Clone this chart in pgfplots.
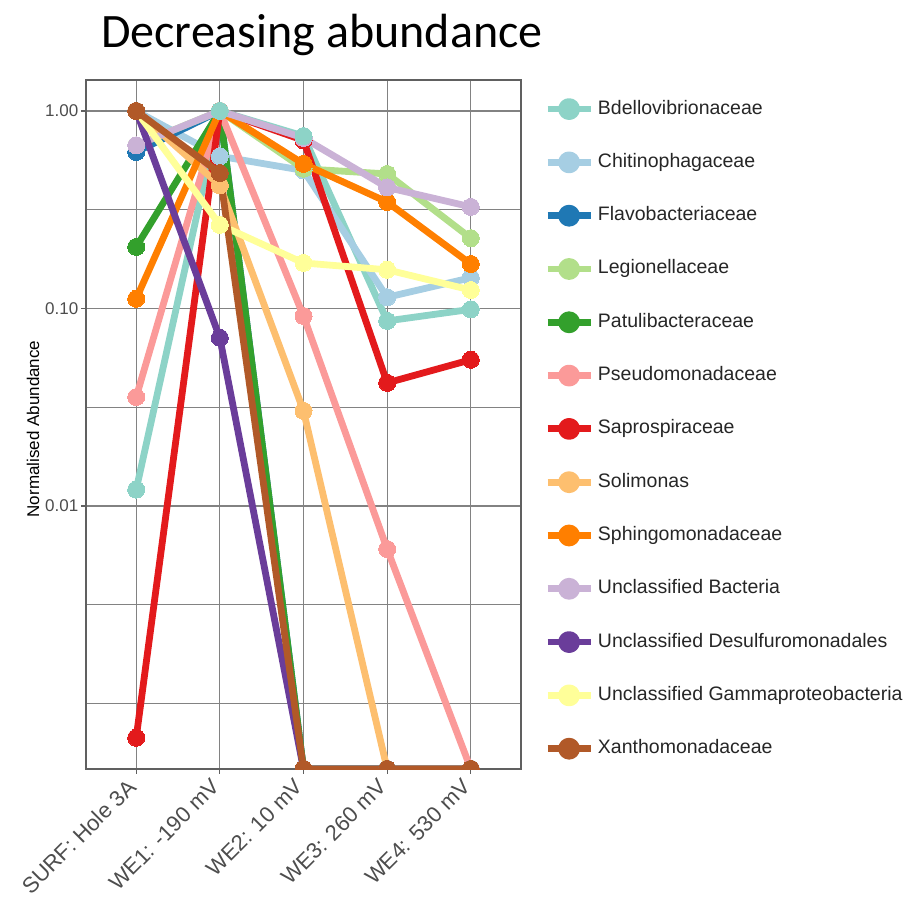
\documentclass[border=0pt]{standalone}
\usepackage{pgfplots}
\pgfplotsset{compat=1.18}
\usepackage{pgfplotstable}
\usepackage{fontspec}
\setmainfont{Liberation Sans}
\newfontfamily\titlefont{Carlito}

\definecolor{cBdello}{HTML}{8DD3C7}
\definecolor{cChitino}{HTML}{A6CEE3}
\definecolor{cFlavo}{HTML}{1F78B4}
\definecolor{cLegion}{HTML}{B2DF8A}
\definecolor{cPatuli}{HTML}{33A02C}
\definecolor{cPseudo}{HTML}{FB9A99}
\definecolor{cSapro}{HTML}{E31A1C}
\definecolor{cSolim}{HTML}{FDBF6F}
\definecolor{cSphingo}{HTML}{FF7F00}
\definecolor{cUncBact}{HTML}{CAB2D6}
\definecolor{cDesulf}{HTML}{6A3D9A}
\definecolor{cGamma}{HTML}{FFFF99}
\definecolor{cXantho}{HTML}{B15928}
\definecolor{gridgray}{HTML}{828282}
\definecolor{framegray}{HTML}{606060}
\definecolor{ticktext}{HTML}{4D4D4D}

\pgfplotsset{
  pts/.style={only marks, mark=*, mark size=8.5bp, mark options={line width=0pt}, forget plot},
}

% Normalised abundance per sample; 0.000466 marks taxa that were not detected
% (drawn on the lower edge of the panel)
\pgfplotstableread{
x  bdello  chitino flavo    legion  patuli   pseudo   sapro    solim    sphingo uncbact desulf   gamma  xantho
0  0.0121  1.0     0.62     0.67    0.205    0.0356   0.00067  1.0      0.112   0.67    1.0      1.0    1.0
1  1.0     0.59    1.0      1.0     1.0      1.0      1.0      0.42     1.0     1.0     0.071    0.265  0.485
2  0.747   0.50    0.000466 0.51    0.000466 0.0916   0.71     0.0303   0.54    0.73    0.000466 0.17   0.000466
3  0.0865  0.114   0.000466 0.48    0.000466 0.00605  0.042    0.000466 0.346   0.41    0.000466 0.157  0.000466
4  0.099   0.143   0.000466 0.227   0.000466 0.000466 0.055    0.000466 0.168   0.327   0.000466 0.124  0.000466
}\abund

\begin{document}
\begin{tikzpicture}[x=1bp,y=1bp]
\path[use as bounding box] (0,0) rectangle (907,901);
\begin{axis}[
  at={(86bp,132bp)}, anchor=south west,
  scale only axis, width=435bp, height=689bp,
  xmin=-0.6, xmax=4.6,
  ymode=log, ymin=0.0004656, ymax=1.4355,
  xtick={0,1,2,3,4},
  xticklabels={SURF: Hole 3A, WE1: -190 mV, WE2: 10 mV, WE3: 260 mV, WE4: 530 mV},
  ytick={1,0.1,0.01},
  yticklabels={1.00,0.10,0.01},
  minor ytick={0.316228,0.0316228,0.00316228,0.001},
  xmajorgrids, ymajorgrids, yminorgrids,
  grid style={gridgray, line width=1.1bp},
  minor grid style={gridgray, line width=1.1bp},
  axis line style={framegray, line width=1.3bp},
  tick align=outside, major tick length=5bp, minor tick length=0pt,
  tick style={framegray, line width=1.2bp},
  xtick pos=bottom, ytick pos=left,
  /pgf/number format/assume math mode=true,
  yticklabel style={font=\fontsize{17bp}{19bp}\selectfont, text=ticktext, inner sep=2.5bp},
  xticklabel style={font=\fontsize{22bp}{24bp}\selectfont, text=ticktext, xshift=-10bp, yshift=-2bp, rotate=45, anchor=north east, inner sep=1bp},
  ylabel={Normalised Abundance},
  ylabel style={font=\fontsize{17bp}{19bp}\selectfont, at={(axis description cs:-0.1218,0.4935)}, anchor=center},
  title={Decreasing abundance},
  every axis title shift=0pt,
  title style={font=\titlefont\fontsize{48bp}{51bp}\selectfont, at={(axis description cs:0.0345,1.0465)}, anchor=base west, inner sep=0pt},
  clip marker paths=true,
  every axis plot/.append style={line width=6.8bp, line join=round},
  legend cell align=left,
  legend image code/.code={
    \draw[#1] (0bp,0bp) -- (43bp,0bp);
    \fill[#1] (21.5bp,0bp) circle (7.5bp);
  },
  legend style={draw=none, fill=none, at={(axis description cs:1,1)}, anchor=north west,
    xshift=20bp, yshift=-16bp, row sep=31.5bp,
    font=\fontsize{19.5bp}{22bp}\selectfont, text=black!85,
    nodes={inner sep=0pt, text height=14bp, text depth=4bp},
    /tikz/every odd column/.append style={column sep=4bp}},
]
% connecting lines for every taxon
\addplot[cBdello]  table[x=x, y=bdello]  {\abund}; \addlegendentry{Bdellovibrionaceae}
\addplot[cChitino] table[x=x, y=chitino] {\abund}; \addlegendentry{Chitinophagaceae}
\addplot[cFlavo]   table[x=x, y=flavo]   {\abund}; \addlegendentry{Flavobacteriaceae}
\addplot[cLegion]  table[x=x, y=legion]  {\abund}; \addlegendentry{Legionellaceae}
\addplot[cPatuli]  table[x=x, y=patuli]  {\abund}; \addlegendentry{Patulibacteraceae}
\addplot[cPseudo]  table[x=x, y=pseudo]  {\abund}; \addlegendentry{Pseudomonadaceae}
\addplot[cSapro]   table[x=x, y=sapro]   {\abund}; \addlegendentry{Saprospiraceae}
\addplot[cSolim]   table[x=x, y=solim]   {\abund}; \addlegendentry{Solimonas}
\addplot[cSphingo] table[x=x, y=sphingo] {\abund}; \addlegendentry{Sphingomonadaceae}
\addplot[cUncBact] table[x=x, y=uncbact] {\abund}; \addlegendentry{Unclassified Bacteria}
\addplot[cDesulf]  table[x=x, y=desulf]  {\abund}; \addlegendentry{Unclassified Desulfuromonadales}
\addplot[cGamma]   table[x=x, y=gamma]   {\abund}; \addlegendentry{Unclassified Gammaproteobacteria}
\addplot[cXantho]  table[x=x, y=xantho]  {\abund}; \addlegendentry{Xanthomonadaceae}
% points on top of all lines
\addplot[cChitino, pts] table[x=x, y=chitino] {\abund};
\addplot[cFlavo,   pts] table[x=x, y=flavo]   {\abund};
\addplot[cLegion,  pts] table[x=x, y=legion]  {\abund};
\addplot[cPatuli,  pts] table[x=x, y=patuli]  {\abund};
\addplot[cPseudo,  pts] table[x=x, y=pseudo]  {\abund};
\addplot[cSapro,   pts] table[x=x, y=sapro]   {\abund};
\addplot[cSolim,   pts] table[x=x, y=solim]   {\abund};
\addplot[cSphingo, pts] table[x=x, y=sphingo] {\abund};
\addplot[cUncBact, pts] table[x=x, y=uncbact] {\abund};
\addplot[cDesulf,  pts] table[x=x, y=desulf]  {\abund};
\addplot[cGamma,   pts] table[x=x, y=gamma]   {\abund};
\addplot[cXantho,  pts] table[x=x, y=xantho]  {\abund};
\addplot[cBdello,  pts] table[x=x, y=bdello]  {\abund};
\end{axis}
\end{tikzpicture}
\end{document}
